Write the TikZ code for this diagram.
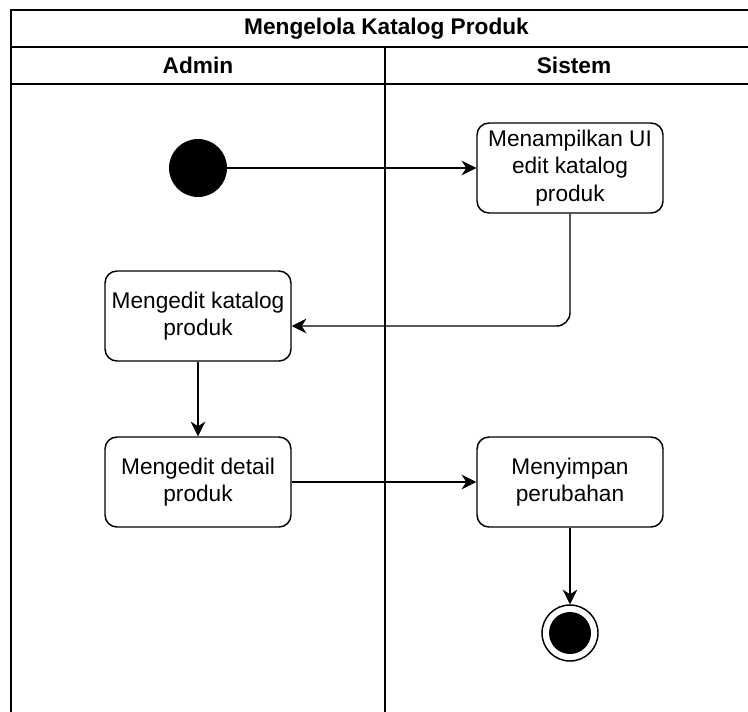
\documentclass[tikz,border=0pt]{standalone}
\usepackage{fontspec}
\setmainfont{Liberation Sans}
\usetikzlibrary{arrows.meta}

\begin{document}
\begin{tikzpicture}
[
  x=0.75pt,
  y=-0.75pt,
  font=\fontsize{17}{20.5}\selectfont,
  lane/.style={line width=1.4pt},
  head/.style={font=\bfseries\fontsize{17}{20.5}\selectfont},
  act/.style={draw,line width=1.1pt,rounded corners=9pt,minimum width=139.5pt,minimum height=67.5pt,align=center,inner sep=0pt},
  initial/.style={circle,fill=black,minimum size=43.5pt,inner sep=0pt},
  finalring/.style={circle,draw,line width=1.1pt,minimum size=42pt,inner sep=0pt},
  finaldot/.style={circle,fill=black,minimum size=31.5pt,inner sep=0pt},
  flow/.style={-{Stealth[length=11pt,width=11pt,inset=3.5pt]},line width=1.1pt}
]

\useasboundingbox (0,0) rectangle (748,711);
\clip (0,0) rectangle (748,711);

\draw[lane] (11,730) -- (11,10) -- (762,10) -- (762,730);
\draw[lane] (11,47) -- (762,47);
\draw[lane] (11,84) -- (762,84);
\draw[lane] (385,47) -- (385,730);

\node[head] (title) at (386.5,28.5) {Mengelola Katalog Produk};
\node[head] (admin) at (198,65.5) {Admin};
\node[head] (sistem) at (574,65.5) {Sistem};


\node[initial] (begin) at (198,168) {};
\node[act] (act1) at (570,168) {Menampilkan UI\\edit katalog\\produk};
\node[act] (act2) at (198,316) {Mengedit katalog\\produk};
\node[act] (act3) at (198,482) {Mengedit detail\\produk};
\node[act] (act4) at (570,482) {Menyimpan\\perubahan};
\node[finalring] (final) at (570,633) {};
\node[finaldot] (finalin) at (final) {};

\coordinate (bend) at (0,326);


\draw[flow] (begin) -- (act1);
\draw[flow,rounded corners=10pt] (act1) |- (act2.east |- bend);
\draw[flow] (act2) -- (act3);
\draw[flow] (act3) -- (act4);
\draw[flow] (act4) -- (final);
\end{tikzpicture}
\end{document}
